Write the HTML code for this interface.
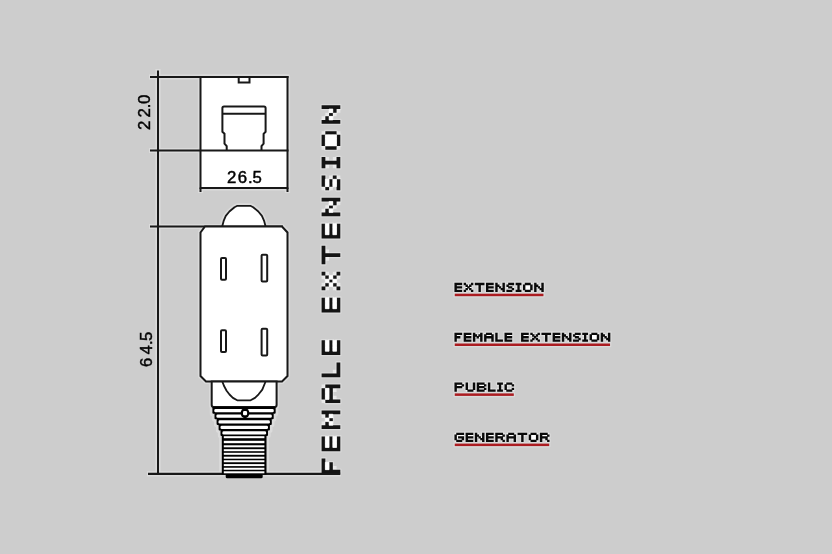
<!DOCTYPE html>
<html><head><meta charset="utf-8"><title>Female Extension</title>
<style>
html,body{margin:0;padding:0;background:#cdcdcd;}
body{width:832px;height:554px;overflow:hidden;position:relative;font-family:"Liberation Sans",sans-serif;}
svg{display:block;position:absolute;left:0;top:0;}
</style></head>
<body>
<svg width="832" height="554" viewBox="0 0 832 554">
<path fill="none" stroke="#dadada" stroke-width="2.6" stroke-linejoin="round" d="M321.6 458.59h3.74v14.8h-3.74zM325.34 469.69h3.74v3.7h-3.74zM329.08 462.29h3.74v11.1h-3.74zM332.82 469.69h3.74v3.7h-3.74zM336.56 469.69h3.74v3.7h-3.74zM321.6 436.39h3.74v14.8h-3.74zM325.34 447.49h3.74v3.7h-3.74zM329.08 436.39h3.74v14.8h-3.74zM332.82 447.49h3.74v3.7h-3.74zM336.56 436.39h3.74v14.8h-3.74zM321.6 425.29h3.74v3.7h-3.74zM321.6 410.49h3.74v3.7h-3.74zM325.34 421.59h3.74v7.4h-3.74zM325.34 410.49h3.74v7.4h-3.74zM329.08 425.29h3.74v3.7h-3.74zM329.08 417.89h3.74v3.7h-3.74zM329.08 410.49h3.74v3.7h-3.74zM332.82 425.29h3.74v3.7h-3.74zM332.82 410.49h3.74v3.7h-3.74zM336.56 425.29h3.74v3.7h-3.74zM336.56 410.49h3.74v3.7h-3.74zM321.6 388.29h3.74v11.1h-3.74zM325.34 399.39h3.74v3.7h-3.74zM325.34 384.59h3.74v3.7h-3.74zM329.08 384.59h3.74v18.5h-3.74zM332.82 399.39h3.74v3.7h-3.74zM332.82 384.59h3.74v3.7h-3.74zM336.56 399.39h3.74v3.7h-3.74zM336.56 384.59h3.74v3.7h-3.74zM321.6 373.49h3.74v3.7h-3.74zM325.34 373.49h3.74v3.7h-3.74zM329.08 373.49h3.74v3.7h-3.74zM332.82 373.49h3.74v3.7h-3.74zM336.56 362.39h3.74v14.8h-3.74zM321.6 340.19h3.74v14.8h-3.74zM325.34 351.29h3.74v3.7h-3.74zM329.08 340.19h3.74v14.8h-3.74zM332.82 351.29h3.74v3.7h-3.74zM336.56 340.19h3.74v14.8h-3.74zM321.6 297.64h3.74v14.8h-3.74zM325.34 308.74h3.74v3.7h-3.74zM329.08 297.64h3.74v14.8h-3.74zM332.82 308.74h3.74v3.7h-3.74zM336.56 297.64h3.74v14.8h-3.74zM321.6 286.54h3.74v3.7h-3.74zM321.6 271.74h3.74v3.7h-3.74zM325.34 282.84h3.74v3.7h-3.74zM325.34 275.44h3.74v3.7h-3.74zM329.08 279.14h3.74v3.7h-3.74zM332.82 282.84h3.74v3.7h-3.74zM332.82 275.44h3.74v3.7h-3.74zM336.56 286.54h3.74v3.7h-3.74zM336.56 271.74h3.74v3.7h-3.74zM321.6 245.84h3.74v18.5h-3.74zM325.34 253.24h3.74v3.7h-3.74zM329.08 253.24h3.74v3.7h-3.74zM332.82 253.24h3.74v3.7h-3.74zM336.56 253.24h3.74v3.7h-3.74zM321.6 223.64h3.74v14.8h-3.74zM325.34 234.74h3.74v3.7h-3.74zM329.08 223.64h3.74v14.8h-3.74zM332.82 234.74h3.74v3.7h-3.74zM336.56 223.64h3.74v14.8h-3.74zM321.6 212.54h3.74v3.7h-3.74zM321.6 197.74h3.74v3.7h-3.74zM325.34 208.84h3.74v7.4h-3.74zM325.34 197.74h3.74v3.7h-3.74zM329.08 212.54h3.74v3.7h-3.74zM329.08 205.14h3.74v3.7h-3.74zM329.08 197.74h3.74v3.7h-3.74zM332.82 212.54h3.74v3.7h-3.74zM332.82 197.74h3.74v7.4h-3.74zM336.56 212.54h3.74v3.7h-3.74zM336.56 197.74h3.74v3.7h-3.74zM321.6 175.54h3.74v11.1h-3.74zM325.34 186.64h3.74v3.7h-3.74zM329.08 179.24h3.74v7.4h-3.74zM332.82 175.54h3.74v3.7h-3.74zM336.56 179.24h3.74v11.1h-3.74zM321.6 157.04h3.74v11.1h-3.74zM325.34 160.74h3.74v3.7h-3.74zM329.08 160.74h3.74v3.7h-3.74zM332.82 160.74h3.74v3.7h-3.74zM336.56 157.04h3.74v11.1h-3.74zM321.6 134.84h3.74v11.1h-3.74zM325.34 145.94h3.74v3.7h-3.74zM325.34 131.14h3.74v3.7h-3.74zM329.08 145.94h3.74v3.7h-3.74zM329.08 131.14h3.74v3.7h-3.74zM332.82 145.94h3.74v3.7h-3.74zM332.82 131.14h3.74v3.7h-3.74zM336.56 134.84h3.74v11.1h-3.74zM321.6 120.04h3.74v3.7h-3.74zM321.6 105.24h3.74v3.7h-3.74zM325.34 116.34h3.74v7.4h-3.74zM325.34 105.24h3.74v3.7h-3.74zM329.08 120.04h3.74v3.7h-3.74zM329.08 112.64h3.74v3.7h-3.74zM329.08 105.24h3.74v3.7h-3.74zM332.82 120.04h3.74v3.7h-3.74zM332.82 105.24h3.74v7.4h-3.74zM336.56 120.04h3.74v3.7h-3.74zM336.56 105.24h3.74v3.7h-3.74zM454.45 282.85h7.69v2.32h-7.69zM454.45 284.57h2.37v2.32h-2.37zM454.45 286.29h7.69v2.32h-7.69zM454.45 288.01h2.37v2.32h-2.37zM454.45 289.73h7.69v2.32h-7.69zM463.69 282.85h2.4v2.32h-2.4zM470.9 282.85h2.4v2.32h-2.4zM465.5 284.57h2.4v2.32h-2.4zM469.1 284.57h2.4v2.32h-2.4zM467.3 286.29h2.4v2.32h-2.4zM465.5 288.01h2.4v2.32h-2.4zM469.1 288.01h2.4v2.32h-2.4zM463.69 289.73h2.4v2.32h-2.4zM470.9 289.73h2.4v2.32h-2.4zM474.85 282.85h9.61v2.32h-9.61zM478.46 284.57h2.4v2.32h-2.4zM478.46 286.29h2.4v2.32h-2.4zM478.46 288.01h2.4v2.32h-2.4zM478.46 289.73h2.4v2.32h-2.4zM486.01 282.85h7.69v2.32h-7.69zM486.01 284.57h2.37v2.32h-2.37zM486.01 286.29h7.69v2.32h-7.69zM486.01 288.01h2.37v2.32h-2.37zM486.01 289.73h7.69v2.32h-7.69zM495.26 282.85h2.4v2.32h-2.4zM502.46 282.85h2.4v2.32h-2.4zM495.26 284.57h4.2v2.32h-4.2zM502.46 284.57h2.4v2.32h-2.4zM495.26 286.29h2.4v2.32h-2.4zM498.86 286.29h2.4v2.32h-2.4zM502.46 286.29h2.4v2.32h-2.4zM495.26 288.01h2.4v2.32h-2.4zM500.66 288.01h4.2v2.32h-4.2zM495.26 289.73h2.4v2.32h-2.4zM502.46 289.73h2.4v2.32h-2.4zM508.19 282.85h5.92v2.32h-5.92zM506.42 284.57h2.37v2.32h-2.37zM508.19 286.29h4.14v2.32h-4.14zM511.73 288.01h2.37v2.32h-2.37zM506.42 289.73h5.92v2.32h-5.92zM515.66 282.85h5.77v2.32h-5.77zM517.38 284.57h2.32v2.32h-2.32zM517.38 286.29h2.32v2.32h-2.32zM517.38 288.01h2.32v2.32h-2.32zM515.66 289.73h5.77v2.32h-5.77zM524.78 282.85h6v2.32h-6zM522.98 284.57h2.4v2.32h-2.4zM530.18 284.57h2.4v2.32h-2.4zM522.98 286.29h2.4v2.32h-2.4zM530.18 286.29h2.4v2.32h-2.4zM522.98 288.01h2.4v2.32h-2.4zM530.18 288.01h2.4v2.32h-2.4zM524.78 289.73h6v2.32h-6zM534.14 282.85h2.4v2.32h-2.4zM541.34 282.85h2.4v2.32h-2.4zM534.14 284.57h4.2v2.32h-4.2zM541.34 284.57h2.4v2.32h-2.4zM534.14 286.29h2.4v2.32h-2.4zM537.74 286.29h2.4v2.32h-2.4zM541.34 286.29h2.4v2.32h-2.4zM534.14 288.01h2.4v2.32h-2.4zM539.54 288.01h4.2v2.32h-4.2zM534.14 289.73h2.4v2.32h-2.4zM541.34 289.73h2.4v2.32h-2.4zM454.45 332.65h7.69v2.32h-7.69zM454.45 334.37h2.37v2.32h-2.37zM454.45 336.09h5.92v2.32h-5.92zM454.45 337.81h2.37v2.32h-2.37zM454.45 339.53h2.37v2.32h-2.37zM463.69 332.65h7.69v2.32h-7.69zM463.69 334.37h2.37v2.32h-2.37zM463.69 336.09h7.69v2.32h-7.69zM463.69 337.81h2.37v2.32h-2.37zM463.69 339.53h7.69v2.32h-7.69zM472.94 332.65h2.4v2.32h-2.4zM480.14 332.65h2.4v2.32h-2.4zM472.94 334.37h4.2v2.32h-4.2zM478.34 334.37h4.2v2.32h-4.2zM472.94 336.09h2.4v2.32h-2.4zM476.54 336.09h2.4v2.32h-2.4zM480.14 336.09h2.4v2.32h-2.4zM472.94 337.81h2.4v2.32h-2.4zM480.14 337.81h2.4v2.32h-2.4zM472.94 339.53h2.4v2.32h-2.4zM480.14 339.53h2.4v2.32h-2.4zM485.9 332.65h6v2.32h-6zM484.1 334.37h2.4v2.32h-2.4zM491.3 334.37h2.4v2.32h-2.4zM484.1 336.09h9.61v2.32h-9.61zM484.1 337.81h2.4v2.32h-2.4zM491.3 337.81h2.4v2.32h-2.4zM484.1 339.53h2.4v2.32h-2.4zM491.3 339.53h2.4v2.32h-2.4zM495.26 332.65h2.37v2.32h-2.37zM495.26 334.37h2.37v2.32h-2.37zM495.26 336.09h2.37v2.32h-2.37zM495.26 337.81h2.37v2.32h-2.37zM495.26 339.53h7.69v2.32h-7.69zM504.5 332.65h7.69v2.32h-7.69zM504.5 334.37h2.37v2.32h-2.37zM504.5 336.09h7.69v2.32h-7.69zM504.5 337.81h2.37v2.32h-2.37zM504.5 339.53h7.69v2.32h-7.69zM521.06 332.65h7.69v2.32h-7.69zM521.06 334.37h2.37v2.32h-2.37zM521.06 336.09h7.69v2.32h-7.69zM521.06 337.81h2.37v2.32h-2.37zM521.06 339.53h7.69v2.32h-7.69zM530.3 332.65h2.4v2.32h-2.4zM537.51 332.65h2.4v2.32h-2.4zM532.1 334.37h2.4v2.32h-2.4zM535.71 334.37h2.4v2.32h-2.4zM533.9 336.09h2.4v2.32h-2.4zM532.1 337.81h2.4v2.32h-2.4zM535.71 337.81h2.4v2.32h-2.4zM530.3 339.53h2.4v2.32h-2.4zM537.51 339.53h2.4v2.32h-2.4zM541.46 332.65h9.61v2.32h-9.61zM545.06 334.37h2.4v2.32h-2.4zM545.06 336.09h2.4v2.32h-2.4zM545.06 337.81h2.4v2.32h-2.4zM545.06 339.53h2.4v2.32h-2.4zM552.62 332.65h7.69v2.32h-7.69zM552.62 334.37h2.37v2.32h-2.37zM552.62 336.09h7.69v2.32h-7.69zM552.62 337.81h2.37v2.32h-2.37zM552.62 339.53h7.69v2.32h-7.69zM561.86 332.65h2.4v2.32h-2.4zM569.07 332.65h2.4v2.32h-2.4zM561.86 334.37h4.2v2.32h-4.2zM569.07 334.37h2.4v2.32h-2.4zM561.86 336.09h2.4v2.32h-2.4zM565.46 336.09h2.4v2.32h-2.4zM569.07 336.09h2.4v2.32h-2.4zM561.86 337.81h2.4v2.32h-2.4zM567.27 337.81h4.2v2.32h-4.2zM561.86 339.53h2.4v2.32h-2.4zM569.07 339.53h2.4v2.32h-2.4zM574.79 332.65h5.92v2.32h-5.92zM573.02 334.37h2.37v2.32h-2.37zM574.79 336.09h4.14v2.32h-4.14zM578.34 337.81h2.37v2.32h-2.37zM573.02 339.53h5.92v2.32h-5.92zM582.26 332.65h5.77v2.32h-5.77zM583.99 334.37h2.32v2.32h-2.32zM583.99 336.09h2.32v2.32h-2.32zM583.99 337.81h2.32v2.32h-2.32zM582.26 339.53h5.77v2.32h-5.77zM591.39 332.65h6v2.32h-6zM589.59 334.37h2.4v2.32h-2.4zM596.79 334.37h2.4v2.32h-2.4zM589.59 336.09h2.4v2.32h-2.4zM596.79 336.09h2.4v2.32h-2.4zM589.59 337.81h2.4v2.32h-2.4zM596.79 337.81h2.4v2.32h-2.4zM591.39 339.53h6v2.32h-6zM600.75 332.65h2.4v2.32h-2.4zM607.95 332.65h2.4v2.32h-2.4zM600.75 334.37h4.2v2.32h-4.2zM607.95 334.37h2.4v2.32h-2.4zM600.75 336.09h2.4v2.32h-2.4zM604.35 336.09h2.4v2.32h-2.4zM607.95 336.09h2.4v2.32h-2.4zM600.75 337.81h2.4v2.32h-2.4zM606.15 337.81h4.2v2.32h-4.2zM600.75 339.53h2.4v2.32h-2.4zM607.95 339.53h2.4v2.32h-2.4zM454.45 382.55h7.81v2.32h-7.81zM454.45 384.27h2.4v2.32h-2.4zM461.66 384.27h2.4v2.32h-2.4zM454.45 385.99h7.81v2.32h-7.81zM454.45 387.71h2.4v2.32h-2.4zM454.45 389.43h2.4v2.32h-2.4zM465.61 382.55h2.4v2.32h-2.4zM472.82 382.55h2.4v2.32h-2.4zM465.61 384.27h2.4v2.32h-2.4zM472.82 384.27h2.4v2.32h-2.4zM465.61 385.99h2.4v2.32h-2.4zM472.82 385.99h2.4v2.32h-2.4zM465.61 387.71h2.4v2.32h-2.4zM472.82 387.71h2.4v2.32h-2.4zM467.42 389.43h6v2.32h-6zM476.77 382.55h7.81v2.32h-7.81zM476.77 384.27h2.4v2.32h-2.4zM483.98 384.27h2.4v2.32h-2.4zM476.77 385.99h7.81v2.32h-7.81zM476.77 387.71h2.4v2.32h-2.4zM483.98 387.71h2.4v2.32h-2.4zM476.77 389.43h7.81v2.32h-7.81zM487.93 382.55h2.37v2.32h-2.37zM487.93 384.27h2.37v2.32h-2.37zM487.93 385.99h2.37v2.32h-2.37zM487.93 387.71h2.37v2.32h-2.37zM487.93 389.43h7.69v2.32h-7.69zM497.17 382.55h5.77v2.32h-5.77zM498.9 384.27h2.32v2.32h-2.32zM498.9 385.99h2.32v2.32h-2.32zM498.9 387.71h2.32v2.32h-2.32zM497.17 389.43h5.77v2.32h-5.77zM506.3 382.55h6v2.32h-6zM504.5 384.27h2.4v2.32h-2.4zM511.7 384.27h2.4v2.32h-2.4zM504.5 385.99h2.4v2.32h-2.4zM504.5 387.71h2.4v2.32h-2.4zM511.7 387.71h2.4v2.32h-2.4zM506.3 389.43h6v2.32h-6zM456.26 432.75h7.81v2.32h-7.81zM454.45 434.47h2.4v2.32h-2.4zM454.45 436.19h2.4v2.32h-2.4zM458.06 436.19h6v2.32h-6zM454.45 437.91h2.4v2.32h-2.4zM461.66 437.91h2.4v2.32h-2.4zM456.26 439.63h6v2.32h-6zM465.61 432.75h7.69v2.32h-7.69zM465.61 434.47h2.37v2.32h-2.37zM465.61 436.19h7.69v2.32h-7.69zM465.61 437.91h2.37v2.32h-2.37zM465.61 439.63h7.69v2.32h-7.69zM474.85 432.75h2.4v2.32h-2.4zM482.06 432.75h2.4v2.32h-2.4zM474.85 434.47h4.2v2.32h-4.2zM482.06 434.47h2.4v2.32h-2.4zM474.85 436.19h2.4v2.32h-2.4zM478.46 436.19h2.4v2.32h-2.4zM482.06 436.19h2.4v2.32h-2.4zM474.85 437.91h2.4v2.32h-2.4zM480.26 437.91h4.2v2.32h-4.2zM474.85 439.63h2.4v2.32h-2.4zM482.06 439.63h2.4v2.32h-2.4zM486.01 432.75h7.69v2.32h-7.69zM486.01 434.47h2.37v2.32h-2.37zM486.01 436.19h7.69v2.32h-7.69zM486.01 437.91h2.37v2.32h-2.37zM486.01 439.63h7.69v2.32h-7.69zM495.26 432.75h7.81v2.32h-7.81zM495.26 434.47h2.4v2.32h-2.4zM502.46 434.47h2.4v2.32h-2.4zM495.26 436.19h7.81v2.32h-7.81zM495.26 437.91h2.4v2.32h-2.4zM500.66 437.91h2.4v2.32h-2.4zM495.26 439.63h2.4v2.32h-2.4zM502.46 439.63h2.4v2.32h-2.4zM508.22 432.75h6v2.32h-6zM506.42 434.47h2.4v2.32h-2.4zM513.62 434.47h2.4v2.32h-2.4zM506.42 436.19h9.61v2.32h-9.61zM506.42 437.91h2.4v2.32h-2.4zM513.62 437.91h2.4v2.32h-2.4zM506.42 439.63h2.4v2.32h-2.4zM513.62 439.63h2.4v2.32h-2.4zM517.58 432.75h9.61v2.32h-9.61zM521.18 434.47h2.4v2.32h-2.4zM521.18 436.19h2.4v2.32h-2.4zM521.18 437.91h2.4v2.32h-2.4zM521.18 439.63h2.4v2.32h-2.4zM530.54 432.75h6v2.32h-6zM528.74 434.47h2.4v2.32h-2.4zM535.94 434.47h2.4v2.32h-2.4zM528.74 436.19h2.4v2.32h-2.4zM535.94 436.19h2.4v2.32h-2.4zM528.74 437.91h2.4v2.32h-2.4zM535.94 437.91h2.4v2.32h-2.4zM530.54 439.63h6v2.32h-6zM539.9 432.75h7.81v2.32h-7.81zM539.9 434.47h2.4v2.32h-2.4zM547.1 434.47h2.4v2.32h-2.4zM539.9 436.19h7.81v2.32h-7.81zM539.9 437.91h2.4v2.32h-2.4zM545.3 437.91h2.4v2.32h-2.4zM539.9 439.63h2.4v2.32h-2.4zM547.1 439.63h2.4v2.32h-2.4zM454.75 293.7h88.69v2.5h-88.69zM454.75 343.5h155.3v2.5h-155.3zM454.75 393.4h59.05v2.5h-59.05zM454.75 443.6h94.45v2.5h-94.45z"/>
<g stroke="#dbdbdb" stroke-width="5.2" fill="none" stroke-linejoin="round">
  <line x1="158" y1="69" x2="158" y2="476"/>
  <line x1="149" y1="77" x2="289.5" y2="77"/>
  <line x1="149" y1="150.5" x2="200" y2="150.5"/>
  <line x1="149" y1="226.5" x2="283" y2="226.5"/>
  <line x1="147" y1="473.8" x2="341" y2="473.8"/>
  <rect x="200.5" y="77" width="87" height="111"/>
  <line x1="200.5" y1="187.5" x2="200.5" y2="193"/>
  <line x1="287.5" y1="187.5" x2="287.5" y2="193"/>
  <path d="M222.2,226.5 L223.65,220.9 L225.8,215.9 L229.4,211.5 L234.5,207.2 L237.4,205.8 H250.3 L253.2,207.2 L258.3,211.5 L261.9,215.9 L264,220.6 L265.6,226.5"/>
  <path d="M205,226.5 H282 L287.5,232.5 V376 L282,381.5 H206 L200.5,376 V232.5 Z"/>
  <path d="M211.7,381.5 V405 Q211.7,407 213.7,407 H274.6 Q276.6,407 276.6,405 V381.5"/>
  <path d="M212.4,407 V413.4 H214.5 V419 H216.6 V424.6 H218.6 V430.2 H220.5 V435.6 H221.8 V474 M275.7,407 V413.4 H273.7 V419 H271.8 V424.6 H269.9 V430.2 H268 V435.6 H266.5 V474"/>
</g>
<g stroke="#181818" stroke-width="2" fill="none">
  <!-- dimension lines -->
  <line x1="158" y1="70.5" x2="158" y2="475"/>
  <line x1="150" y1="77" x2="288.5" y2="77"/>
  <line x1="150" y1="150.5" x2="288.5" y2="150.5"/>
  <line x1="150" y1="226.5" x2="283" y2="226.5"/>
  <line x1="148" y1="473.8" x2="340.3" y2="473.8" stroke-width="2.2"/>
  <!-- top view box -->
  <rect x="200.5" y="77" width="87" height="111" fill="#fff"/>
  <line x1="200.5" y1="150.5" x2="287.5" y2="150.5"/>
  <line x1="200.5" y1="187.5" x2="200.5" y2="192"/>
  <line x1="287.5" y1="187.5" x2="287.5" y2="192"/>
  <path d="M238.7,77 V82.5 H249.5 V77"/>
  <path d="M226.7,150.5 V146.2 L224.5,143.7 V133.8 L222.4,131.8 V108 Q222.4,106.5 224,106.5 H264 Q265.6,106.5 265.6,108 V131.8 L263.6,133.8 V143.7 L261.5,146.2 V150.5"/>
  <line x1="222.4" y1="113.8" x2="265.6" y2="113.8"/>
  <!-- front view -->
  <path d="M222.2,226.5 L223.65,220.9 L225.8,215.9 L229.4,211.5 L234.5,207.2 L237.4,205.8 H250.3 L253.2,207.2 L258.3,211.5 L261.9,215.9 L264,220.6 L265.6,226.5 Z" fill="#fff" stroke-linejoin="round" stroke-width="1.8"/>
  <path d="M205,226.5 H282 L287.5,232.5 V376 L282,381.5 H206 L200.5,376 V232.5 Z" fill="#fff"/>
  <rect x="221" y="258.1" width="5" height="21.6" rx="1" fill="#fff"/>
  <rect x="261.6" y="254.7" width="5.6" height="26.9" rx="1" fill="#fff"/>
  <rect x="221" y="330.3" width="5" height="21.6" rx="1" fill="#fff"/>
  <rect x="261.6" y="328.8" width="5.6" height="26.8" rx="1" fill="#fff"/>
  <path d="M211.7,381.5 V405 Q211.7,407 213.7,407 H274.6 Q276.6,407 276.6,405 V381.5 Z" fill="#fff"/>
  <path d="M222.3,381.5 L224.2,386.3 L226.6,390.7 L229.5,394.5 L232.9,397.9 L237.2,400.3 H250.6 L255,397.9 L258.6,394.3 L262.3,389.6 L265.6,381.5" stroke-linejoin="round" stroke-width="1.8"/>
</g>
<!-- taper bands -->
<g fill="#000">
  <rect x="212.40" y="406.70" width="63.25" height="7.00" rx="1"/>
  <rect x="214.50" y="413.10" width="59.20" height="6.20" rx="1"/>
  <rect x="216.60" y="418.70" width="55.20" height="6.25" rx="1"/>
  <rect x="218.60" y="424.35" width="51.30" height="6.10" rx="1"/>
  <rect x="220.50" y="429.85" width="47.50" height="6.05" rx="1"/>
</g>
<g fill="#fff">
  <rect x="214.30" y="408.90" width="59.45" height="3.4" rx="1.3"/>
  <rect x="216.40" y="414.45" width="55.40" height="3.4" rx="1.3"/>
  <rect x="218.50" y="420.15" width="51.40" height="3.4" rx="1.3"/>
  <rect x="220.50" y="425.70" width="47.50" height="3.4" rx="1.3"/>
  <rect x="222.40" y="431.20" width="43.70" height="3.4" rx="1.3"/>
</g>
<rect x="221.8" y="435" width="44.7" height="39.5" fill="#000"/>
<rect x="225.7" y="474" width="37" height="4.2" rx="1.5" fill="#000"/>
<g fill="#fff">
  <rect x="223.8" y="436.20" width="40.6" height="2.00"/>
  <rect x="223.8" y="440.80" width="40.6" height="2.40"/>
  <rect x="223.8" y="445.30" width="40.6" height="2.00"/>
  <rect x="223.8" y="449.20" width="40.6" height="2.00"/>
  <rect x="223.8" y="452.80" width="40.6" height="2.00"/>
  <rect x="223.8" y="456.70" width="40.6" height="2.00"/>
  <rect x="223.8" y="460.25" width="40.6" height="2.00"/>
  <rect x="223.8" y="464.10" width="40.6" height="2.00"/>
  <rect x="223.8" y="467.75" width="40.6" height="2.00"/>
  <rect x="223.8" y="471.30" width="40.6" height="2.00"/>
</g>
<ellipse cx="245" cy="413.1" rx="4.4" ry="5.1" fill="#000"/>
<rect x="243" y="411.1" width="4.1" height="4.2" rx="1.3" fill="#fff"/>
<!-- dimension texts -->
<g opacity="0.995" font-family="Liberation Sans, sans-serif" font-size="16" stroke="#000" stroke-width="0.45" fill="#000">
  <text x="-0.01 10.27 19.91 24.35" y="0" transform="translate(227,182.6) scale(1.05,1)">26.5</text>
  <text x="0.09 11.8 20.77 24.74" y="0" transform="translate(150,130) rotate(-90) scale(1.05,1)">22.0</text>
  <text x="0.08 11.86 20.86 24.73" y="0" transform="translate(151.5,367) rotate(-90) scale(1.05,1)">64.5</text>
</g>

<path fill="#fff" fill-opacity="0.55" d="M332.82 465.99h3.74v3.7h-3.74zM321.6 421.59h3.74v3.7h-3.74zM321.6 414.19h3.74v3.7h-3.74zM321.6 399.39h3.74v3.7h-3.74zM321.6 384.59h3.74v3.7h-3.74zM332.82 395.69h3.74v3.7h-3.74zM332.82 388.29h3.74v3.7h-3.74zM332.82 369.79h3.74v3.7h-3.74zM321.6 282.84h3.74v3.7h-3.74zM321.6 275.44h3.74v3.7h-3.74zM325.34 286.54h3.74v3.7h-3.74zM325.34 271.74h3.74v3.7h-3.74zM332.82 286.54h3.74v3.7h-3.74zM332.82 271.74h3.74v3.7h-3.74zM336.56 282.84h3.74v3.7h-3.74zM336.56 275.44h3.74v3.7h-3.74zM325.34 256.94h3.74v3.7h-3.74zM325.34 249.54h3.74v3.7h-3.74zM321.6 208.84h3.74v3.7h-3.74zM325.34 205.14h3.74v3.7h-3.74zM332.82 205.14h3.74v3.7h-3.74zM336.56 201.44h3.74v3.7h-3.74zM321.6 186.64h3.74v3.7h-3.74zM329.08 186.64h3.74v3.7h-3.74zM329.08 175.54h3.74v3.7h-3.74zM336.56 175.54h3.74v3.7h-3.74zM325.34 164.44h3.74v3.7h-3.74zM325.34 157.04h3.74v3.7h-3.74zM332.82 164.44h3.74v3.7h-3.74zM332.82 157.04h3.74v3.7h-3.74zM321.6 145.94h3.74v3.7h-3.74zM321.6 131.14h3.74v3.7h-3.74zM336.56 145.94h3.74v3.7h-3.74zM336.56 131.14h3.74v3.7h-3.74zM321.6 116.34h3.74v3.7h-3.74zM325.34 112.64h3.74v3.7h-3.74zM332.82 112.64h3.74v3.7h-3.74zM336.56 108.94h3.74v3.7h-3.74z"/>
<path fill="#141414" d="M321.6 458.59h3.74v14.8h-3.74zM325.34 469.69h3.74v3.7h-3.74zM329.08 462.29h3.74v11.1h-3.74zM332.82 469.69h3.74v3.7h-3.74zM336.56 469.69h3.74v3.7h-3.74zM321.6 436.39h3.74v14.8h-3.74zM325.34 447.49h3.74v3.7h-3.74zM329.08 436.39h3.74v14.8h-3.74zM332.82 447.49h3.74v3.7h-3.74zM336.56 436.39h3.74v14.8h-3.74zM321.6 425.29h3.74v3.7h-3.74zM321.6 410.49h3.74v3.7h-3.74zM325.34 421.59h3.74v7.4h-3.74zM325.34 410.49h3.74v7.4h-3.74zM329.08 425.29h3.74v3.7h-3.74zM329.08 417.89h3.74v3.7h-3.74zM329.08 410.49h3.74v3.7h-3.74zM332.82 425.29h3.74v3.7h-3.74zM332.82 410.49h3.74v3.7h-3.74zM336.56 425.29h3.74v3.7h-3.74zM336.56 410.49h3.74v3.7h-3.74zM321.6 388.29h3.74v11.1h-3.74zM325.34 399.39h3.74v3.7h-3.74zM325.34 384.59h3.74v3.7h-3.74zM329.08 384.59h3.74v18.5h-3.74zM332.82 399.39h3.74v3.7h-3.74zM332.82 384.59h3.74v3.7h-3.74zM336.56 399.39h3.74v3.7h-3.74zM336.56 384.59h3.74v3.7h-3.74zM321.6 373.49h3.74v3.7h-3.74zM325.34 373.49h3.74v3.7h-3.74zM329.08 373.49h3.74v3.7h-3.74zM332.82 373.49h3.74v3.7h-3.74zM336.56 362.39h3.74v14.8h-3.74zM321.6 340.19h3.74v14.8h-3.74zM325.34 351.29h3.74v3.7h-3.74zM329.08 340.19h3.74v14.8h-3.74zM332.82 351.29h3.74v3.7h-3.74zM336.56 340.19h3.74v14.8h-3.74zM321.6 297.64h3.74v14.8h-3.74zM325.34 308.74h3.74v3.7h-3.74zM329.08 297.64h3.74v14.8h-3.74zM332.82 308.74h3.74v3.7h-3.74zM336.56 297.64h3.74v14.8h-3.74zM321.6 286.54h3.74v3.7h-3.74zM321.6 271.74h3.74v3.7h-3.74zM325.34 282.84h3.74v3.7h-3.74zM325.34 275.44h3.74v3.7h-3.74zM329.08 279.14h3.74v3.7h-3.74zM332.82 282.84h3.74v3.7h-3.74zM332.82 275.44h3.74v3.7h-3.74zM336.56 286.54h3.74v3.7h-3.74zM336.56 271.74h3.74v3.7h-3.74zM321.6 245.84h3.74v18.5h-3.74zM325.34 253.24h3.74v3.7h-3.74zM329.08 253.24h3.74v3.7h-3.74zM332.82 253.24h3.74v3.7h-3.74zM336.56 253.24h3.74v3.7h-3.74zM321.6 223.64h3.74v14.8h-3.74zM325.34 234.74h3.74v3.7h-3.74zM329.08 223.64h3.74v14.8h-3.74zM332.82 234.74h3.74v3.7h-3.74zM336.56 223.64h3.74v14.8h-3.74zM321.6 212.54h3.74v3.7h-3.74zM321.6 197.74h3.74v3.7h-3.74zM325.34 208.84h3.74v7.4h-3.74zM325.34 197.74h3.74v3.7h-3.74zM329.08 212.54h3.74v3.7h-3.74zM329.08 205.14h3.74v3.7h-3.74zM329.08 197.74h3.74v3.7h-3.74zM332.82 212.54h3.74v3.7h-3.74zM332.82 197.74h3.74v7.4h-3.74zM336.56 212.54h3.74v3.7h-3.74zM336.56 197.74h3.74v3.7h-3.74zM321.6 175.54h3.74v11.1h-3.74zM325.34 186.64h3.74v3.7h-3.74zM329.08 179.24h3.74v7.4h-3.74zM332.82 175.54h3.74v3.7h-3.74zM336.56 179.24h3.74v11.1h-3.74zM321.6 157.04h3.74v11.1h-3.74zM325.34 160.74h3.74v3.7h-3.74zM329.08 160.74h3.74v3.7h-3.74zM332.82 160.74h3.74v3.7h-3.74zM336.56 157.04h3.74v11.1h-3.74zM321.6 134.84h3.74v11.1h-3.74zM325.34 145.94h3.74v3.7h-3.74zM325.34 131.14h3.74v3.7h-3.74zM329.08 145.94h3.74v3.7h-3.74zM329.08 131.14h3.74v3.7h-3.74zM332.82 145.94h3.74v3.7h-3.74zM332.82 131.14h3.74v3.7h-3.74zM336.56 134.84h3.74v11.1h-3.74zM321.6 120.04h3.74v3.7h-3.74zM321.6 105.24h3.74v3.7h-3.74zM325.34 116.34h3.74v7.4h-3.74zM325.34 105.24h3.74v3.7h-3.74zM329.08 120.04h3.74v3.7h-3.74zM329.08 112.64h3.74v3.7h-3.74zM329.08 105.24h3.74v3.7h-3.74zM332.82 120.04h3.74v3.7h-3.74zM332.82 105.24h3.74v7.4h-3.74zM336.56 120.04h3.74v3.7h-3.74zM336.56 105.24h3.74v3.7h-3.74z"/>
<path fill="#fff" stroke="#fff" stroke-width="0.6" d="M325.34 465.99h3.74v3.7h-3.74zM325.34 462.29h3.74v3.7h-3.74zM325.34 443.79h3.74v3.7h-3.74zM325.34 440.09h3.74v3.7h-3.74zM325.34 436.39h3.74v3.7h-3.74zM332.82 443.79h3.74v3.7h-3.74zM332.82 440.09h3.74v3.7h-3.74zM332.82 436.39h3.74v3.7h-3.74zM325.34 417.89h3.74v3.7h-3.74zM329.08 421.59h3.74v3.7h-3.74zM329.08 414.19h3.74v3.7h-3.74zM325.34 395.69h3.74v3.7h-3.74zM325.34 391.99h3.74v3.7h-3.74zM325.34 388.29h3.74v3.7h-3.74zM325.34 347.59h3.74v3.7h-3.74zM325.34 343.89h3.74v3.7h-3.74zM325.34 340.19h3.74v3.7h-3.74zM332.82 347.59h3.74v3.7h-3.74zM332.82 343.89h3.74v3.7h-3.74zM332.82 340.19h3.74v3.7h-3.74zM325.34 305.04h3.74v3.7h-3.74zM325.34 301.34h3.74v3.7h-3.74zM325.34 297.64h3.74v3.7h-3.74zM332.82 305.04h3.74v3.7h-3.74zM332.82 301.34h3.74v3.7h-3.74zM332.82 297.64h3.74v3.7h-3.74zM325.34 279.14h3.74v3.7h-3.74zM329.08 282.84h3.74v3.7h-3.74zM329.08 275.44h3.74v3.7h-3.74zM332.82 279.14h3.74v3.7h-3.74zM325.34 231.04h3.74v3.7h-3.74zM325.34 227.34h3.74v3.7h-3.74zM325.34 223.64h3.74v3.7h-3.74zM332.82 231.04h3.74v3.7h-3.74zM332.82 227.34h3.74v3.7h-3.74zM332.82 223.64h3.74v3.7h-3.74zM329.08 208.84h3.74v3.7h-3.74zM329.08 201.44h3.74v3.7h-3.74zM325.34 182.94h3.74v3.7h-3.74zM325.34 179.24h3.74v3.7h-3.74zM332.82 182.94h3.74v3.7h-3.74zM332.82 179.24h3.74v3.7h-3.74zM325.34 142.24h3.74v3.7h-3.74zM325.34 138.54h3.74v3.7h-3.74zM325.34 134.84h3.74v3.7h-3.74zM329.08 142.24h3.74v3.7h-3.74zM329.08 138.54h3.74v3.7h-3.74zM329.08 134.84h3.74v3.7h-3.74zM332.82 142.24h3.74v3.7h-3.74zM332.82 138.54h3.74v3.7h-3.74zM332.82 134.84h3.74v3.7h-3.74zM329.08 116.34h3.74v3.7h-3.74zM329.08 108.94h3.74v3.7h-3.74z"/>
<path fill="#fff" fill-opacity="0.5" d="M465.8 283.15h1.8v1.72h-1.8zM469.4 283.15h1.8v1.72h-1.8zM463.99 284.87h1.8v1.72h-1.8zM471.2 284.87h1.8v1.72h-1.8zM463.99 288.31h1.8v1.72h-1.8zM471.2 288.31h1.8v1.72h-1.8zM465.8 290.03h1.8v1.72h-1.8zM469.4 290.03h1.8v1.72h-1.8zM476.96 284.87h1.8v1.72h-1.8zM480.56 284.87h1.8v1.72h-1.8zM497.36 283.15h1.8v1.72h-1.8zM499.16 284.87h1.8v1.72h-1.8zM499.16 288.31h1.8v1.72h-1.8zM500.96 290.03h1.8v1.72h-1.8zM506.72 283.15h1.77v1.72h-1.77zM506.72 286.59h1.77v1.72h-1.77zM512.03 286.59h1.77v1.72h-1.77zM512.03 290.03h1.77v1.72h-1.77zM515.96 284.87h1.72v1.72h-1.72zM519.4 284.87h1.72v1.72h-1.72zM515.96 288.31h1.72v1.72h-1.72zM519.4 288.31h1.72v1.72h-1.72zM523.28 283.15h1.8v1.72h-1.8zM530.48 283.15h1.8v1.72h-1.8zM523.28 290.03h1.8v1.72h-1.8zM530.48 290.03h1.8v1.72h-1.8zM536.24 283.15h1.8v1.72h-1.8zM538.04 284.87h1.8v1.72h-1.8zM538.04 288.31h1.8v1.72h-1.8zM539.84 290.03h1.8v1.72h-1.8zM456.53 338.11h1.77v1.72h-1.77zM475.04 332.95h1.8v1.72h-1.8zM478.64 332.95h1.8v1.72h-1.8zM484.4 332.95h1.8v1.72h-1.8zM491.6 332.95h1.8v1.72h-1.8zM486.2 338.11h1.8v1.72h-1.8zM489.8 338.11h1.8v1.72h-1.8zM497.33 338.11h1.77v1.72h-1.77zM532.4 332.95h1.8v1.72h-1.8zM536.01 332.95h1.8v1.72h-1.8zM530.6 334.67h1.8v1.72h-1.8zM537.81 334.67h1.8v1.72h-1.8zM530.6 338.11h1.8v1.72h-1.8zM537.81 338.11h1.8v1.72h-1.8zM532.4 339.83h1.8v1.72h-1.8zM536.01 339.83h1.8v1.72h-1.8zM543.56 334.67h1.8v1.72h-1.8zM547.17 334.67h1.8v1.72h-1.8zM563.96 332.95h1.8v1.72h-1.8zM565.76 334.67h1.8v1.72h-1.8zM565.76 338.11h1.8v1.72h-1.8zM567.57 339.83h1.8v1.72h-1.8zM573.32 332.95h1.77v1.72h-1.77zM573.32 336.39h1.77v1.72h-1.77zM578.64 336.39h1.77v1.72h-1.77zM578.64 339.83h1.77v1.72h-1.77zM582.56 334.67h1.72v1.72h-1.72zM586.01 334.67h1.72v1.72h-1.72zM582.56 338.11h1.72v1.72h-1.72zM586.01 338.11h1.72v1.72h-1.72zM589.88 332.95h1.8v1.72h-1.8zM597.09 332.95h1.8v1.72h-1.8zM589.88 339.83h1.8v1.72h-1.8zM597.09 339.83h1.8v1.72h-1.8zM602.85 332.95h1.8v1.72h-1.8zM604.65 334.67h1.8v1.72h-1.8zM604.65 338.11h1.8v1.72h-1.8zM606.45 339.83h1.8v1.72h-1.8zM461.96 382.85h1.8v1.72h-1.8zM461.96 386.29h1.8v1.72h-1.8zM456.56 388.01h1.8v1.72h-1.8zM467.72 388.01h1.8v1.72h-1.8zM471.32 388.01h1.8v1.72h-1.8zM465.91 389.73h1.8v1.72h-1.8zM473.12 389.73h1.8v1.72h-1.8zM484.28 382.85h1.8v1.72h-1.8zM484.28 389.73h1.8v1.72h-1.8zM490.01 388.01h1.77v1.72h-1.77zM497.47 384.57h1.72v1.72h-1.72zM500.92 384.57h1.72v1.72h-1.72zM497.47 388.01h1.72v1.72h-1.72zM500.92 388.01h1.72v1.72h-1.72zM504.8 382.85h1.8v1.72h-1.8zM512 382.85h1.8v1.72h-1.8zM506.6 384.57h1.8v1.72h-1.8zM510.2 384.57h1.8v1.72h-1.8zM506.6 388.01h1.8v1.72h-1.8zM510.2 388.01h1.8v1.72h-1.8zM504.8 389.73h1.8v1.72h-1.8zM512 389.73h1.8v1.72h-1.8zM454.75 433.05h1.8v1.72h-1.8zM456.56 434.77h1.8v1.72h-1.8zM456.56 438.21h1.8v1.72h-1.8zM454.75 439.93h1.8v1.72h-1.8zM461.96 439.93h1.8v1.72h-1.8zM476.96 433.05h1.8v1.72h-1.8zM478.76 434.77h1.8v1.72h-1.8zM478.76 438.21h1.8v1.72h-1.8zM480.56 439.93h1.8v1.72h-1.8zM502.76 433.05h1.8v1.72h-1.8zM502.76 436.49h1.8v1.72h-1.8zM497.36 438.21h1.8v1.72h-1.8zM499.16 438.21h1.8v1.72h-1.8zM502.76 438.21h1.8v1.72h-1.8zM500.96 439.93h1.8v1.72h-1.8zM506.72 433.05h1.8v1.72h-1.8zM513.92 433.05h1.8v1.72h-1.8zM508.52 438.21h1.8v1.72h-1.8zM512.12 438.21h1.8v1.72h-1.8zM519.68 434.77h1.8v1.72h-1.8zM523.28 434.77h1.8v1.72h-1.8zM529.04 433.05h1.8v1.72h-1.8zM536.24 433.05h1.8v1.72h-1.8zM529.04 439.93h1.8v1.72h-1.8zM536.24 439.93h1.8v1.72h-1.8zM547.4 433.05h1.8v1.72h-1.8zM547.4 436.49h1.8v1.72h-1.8zM542 438.21h1.8v1.72h-1.8zM543.8 438.21h1.8v1.72h-1.8zM547.4 438.21h1.8v1.72h-1.8zM545.6 439.93h1.8v1.72h-1.8z"/>
<path fill="#fff" d="M456.53 284.87h1.77v1.72h-1.77zM458.3 284.87h1.77v1.72h-1.77zM460.07 284.87h1.77v1.72h-1.77zM456.53 288.31h1.77v1.72h-1.77zM458.3 288.31h1.77v1.72h-1.77zM460.07 288.31h1.77v1.72h-1.77zM467.6 284.87h1.8v1.72h-1.8zM465.8 286.59h1.8v1.72h-1.8zM469.4 286.59h1.8v1.72h-1.8zM467.6 288.31h1.8v1.72h-1.8zM488.09 284.87h1.77v1.72h-1.77zM489.86 284.87h1.77v1.72h-1.77zM491.63 284.87h1.77v1.72h-1.77zM488.09 288.31h1.77v1.72h-1.77zM489.86 288.31h1.77v1.72h-1.77zM491.63 288.31h1.77v1.72h-1.77zM497.36 286.59h1.8v1.72h-1.8zM500.96 286.59h1.8v1.72h-1.8zM508.49 284.87h1.77v1.72h-1.77zM510.26 284.87h1.77v1.72h-1.77zM508.49 288.31h1.77v1.72h-1.77zM510.26 288.31h1.77v1.72h-1.77zM525.08 284.87h1.8v1.72h-1.8zM526.88 284.87h1.8v1.72h-1.8zM528.68 284.87h1.8v1.72h-1.8zM525.08 286.59h1.8v1.72h-1.8zM526.88 286.59h1.8v1.72h-1.8zM528.68 286.59h1.8v1.72h-1.8zM525.08 288.31h1.8v1.72h-1.8zM526.88 288.31h1.8v1.72h-1.8zM528.68 288.31h1.8v1.72h-1.8zM536.24 286.59h1.8v1.72h-1.8zM539.84 286.59h1.8v1.72h-1.8zM456.53 334.67h1.77v1.72h-1.77zM458.3 334.67h1.77v1.72h-1.77zM465.77 334.67h1.77v1.72h-1.77zM467.54 334.67h1.77v1.72h-1.77zM469.31 334.67h1.77v1.72h-1.77zM465.77 338.11h1.77v1.72h-1.77zM467.54 338.11h1.77v1.72h-1.77zM469.31 338.11h1.77v1.72h-1.77zM476.84 334.67h1.8v1.72h-1.8zM475.04 336.39h1.8v1.72h-1.8zM478.64 336.39h1.8v1.72h-1.8zM486.2 334.67h1.8v1.72h-1.8zM488 334.67h1.8v1.72h-1.8zM489.8 334.67h1.8v1.72h-1.8zM506.57 334.67h1.77v1.72h-1.77zM508.34 334.67h1.77v1.72h-1.77zM510.11 334.67h1.77v1.72h-1.77zM506.57 338.11h1.77v1.72h-1.77zM508.34 338.11h1.77v1.72h-1.77zM510.11 338.11h1.77v1.72h-1.77zM523.13 334.67h1.77v1.72h-1.77zM524.9 334.67h1.77v1.72h-1.77zM526.68 334.67h1.77v1.72h-1.77zM523.13 338.11h1.77v1.72h-1.77zM524.9 338.11h1.77v1.72h-1.77zM526.68 338.11h1.77v1.72h-1.77zM534.2 334.67h1.8v1.72h-1.8zM532.4 336.39h1.8v1.72h-1.8zM536.01 336.39h1.8v1.72h-1.8zM534.2 338.11h1.8v1.72h-1.8zM554.69 334.67h1.77v1.72h-1.77zM556.46 334.67h1.77v1.72h-1.77zM558.24 334.67h1.77v1.72h-1.77zM554.69 338.11h1.77v1.72h-1.77zM556.46 338.11h1.77v1.72h-1.77zM558.24 338.11h1.77v1.72h-1.77zM563.96 336.39h1.8v1.72h-1.8zM567.57 336.39h1.8v1.72h-1.8zM575.09 334.67h1.77v1.72h-1.77zM576.87 334.67h1.77v1.72h-1.77zM575.09 338.11h1.77v1.72h-1.77zM576.87 338.11h1.77v1.72h-1.77zM591.69 334.67h1.8v1.72h-1.8zM593.49 334.67h1.8v1.72h-1.8zM595.29 334.67h1.8v1.72h-1.8zM591.69 336.39h1.8v1.72h-1.8zM593.49 336.39h1.8v1.72h-1.8zM595.29 336.39h1.8v1.72h-1.8zM591.69 338.11h1.8v1.72h-1.8zM593.49 338.11h1.8v1.72h-1.8zM595.29 338.11h1.8v1.72h-1.8zM602.85 336.39h1.8v1.72h-1.8zM606.45 336.39h1.8v1.72h-1.8zM456.56 384.57h1.8v1.72h-1.8zM458.36 384.57h1.8v1.72h-1.8zM460.16 384.57h1.8v1.72h-1.8zM478.88 384.57h1.8v1.72h-1.8zM480.68 384.57h1.8v1.72h-1.8zM482.48 384.57h1.8v1.72h-1.8zM484.28 386.29h1.8v1.72h-1.8zM478.88 388.01h1.8v1.72h-1.8zM480.68 388.01h1.8v1.72h-1.8zM482.48 388.01h1.8v1.72h-1.8zM512 386.29h1.8v1.72h-1.8zM458.36 434.77h1.8v1.72h-1.8zM460.16 434.77h1.8v1.72h-1.8zM461.96 434.77h1.8v1.72h-1.8zM456.56 436.49h1.8v1.72h-1.8zM458.36 438.21h1.8v1.72h-1.8zM460.16 438.21h1.8v1.72h-1.8zM467.69 434.77h1.77v1.72h-1.77zM469.46 434.77h1.77v1.72h-1.77zM471.23 434.77h1.77v1.72h-1.77zM467.69 438.21h1.77v1.72h-1.77zM469.46 438.21h1.77v1.72h-1.77zM471.23 438.21h1.77v1.72h-1.77zM476.96 436.49h1.8v1.72h-1.8zM480.56 436.49h1.8v1.72h-1.8zM488.09 434.77h1.77v1.72h-1.77zM489.86 434.77h1.77v1.72h-1.77zM491.63 434.77h1.77v1.72h-1.77zM488.09 438.21h1.77v1.72h-1.77zM489.86 438.21h1.77v1.72h-1.77zM491.63 438.21h1.77v1.72h-1.77zM497.36 434.77h1.8v1.72h-1.8zM499.16 434.77h1.8v1.72h-1.8zM500.96 434.77h1.8v1.72h-1.8zM508.52 434.77h1.8v1.72h-1.8zM510.32 434.77h1.8v1.72h-1.8zM512.12 434.77h1.8v1.72h-1.8zM530.84 434.77h1.8v1.72h-1.8zM532.64 434.77h1.8v1.72h-1.8zM534.44 434.77h1.8v1.72h-1.8zM530.84 436.49h1.8v1.72h-1.8zM532.64 436.49h1.8v1.72h-1.8zM534.44 436.49h1.8v1.72h-1.8zM530.84 438.21h1.8v1.72h-1.8zM532.64 438.21h1.8v1.72h-1.8zM534.44 438.21h1.8v1.72h-1.8zM542 434.77h1.8v1.72h-1.8zM543.8 434.77h1.8v1.72h-1.8zM545.6 434.77h1.8v1.72h-1.8z"/>
<path fill="#0a0a0a" d="M454.45 282.85h7.69v2.32h-7.69zM454.45 284.57h2.37v2.32h-2.37zM454.45 286.29h7.69v2.32h-7.69zM454.45 288.01h2.37v2.32h-2.37zM454.45 289.73h7.69v2.32h-7.69zM463.69 282.85h2.4v2.32h-2.4zM470.9 282.85h2.4v2.32h-2.4zM465.5 284.57h2.4v2.32h-2.4zM469.1 284.57h2.4v2.32h-2.4zM467.3 286.29h2.4v2.32h-2.4zM465.5 288.01h2.4v2.32h-2.4zM469.1 288.01h2.4v2.32h-2.4zM463.69 289.73h2.4v2.32h-2.4zM470.9 289.73h2.4v2.32h-2.4zM474.85 282.85h9.61v2.32h-9.61zM478.46 284.57h2.4v2.32h-2.4zM478.46 286.29h2.4v2.32h-2.4zM478.46 288.01h2.4v2.32h-2.4zM478.46 289.73h2.4v2.32h-2.4zM486.01 282.85h7.69v2.32h-7.69zM486.01 284.57h2.37v2.32h-2.37zM486.01 286.29h7.69v2.32h-7.69zM486.01 288.01h2.37v2.32h-2.37zM486.01 289.73h7.69v2.32h-7.69zM495.26 282.85h2.4v2.32h-2.4zM502.46 282.85h2.4v2.32h-2.4zM495.26 284.57h4.2v2.32h-4.2zM502.46 284.57h2.4v2.32h-2.4zM495.26 286.29h2.4v2.32h-2.4zM498.86 286.29h2.4v2.32h-2.4zM502.46 286.29h2.4v2.32h-2.4zM495.26 288.01h2.4v2.32h-2.4zM500.66 288.01h4.2v2.32h-4.2zM495.26 289.73h2.4v2.32h-2.4zM502.46 289.73h2.4v2.32h-2.4zM508.19 282.85h5.92v2.32h-5.92zM506.42 284.57h2.37v2.32h-2.37zM508.19 286.29h4.14v2.32h-4.14zM511.73 288.01h2.37v2.32h-2.37zM506.42 289.73h5.92v2.32h-5.92zM515.66 282.85h5.77v2.32h-5.77zM517.38 284.57h2.32v2.32h-2.32zM517.38 286.29h2.32v2.32h-2.32zM517.38 288.01h2.32v2.32h-2.32zM515.66 289.73h5.77v2.32h-5.77zM524.78 282.85h6v2.32h-6zM522.98 284.57h2.4v2.32h-2.4zM530.18 284.57h2.4v2.32h-2.4zM522.98 286.29h2.4v2.32h-2.4zM530.18 286.29h2.4v2.32h-2.4zM522.98 288.01h2.4v2.32h-2.4zM530.18 288.01h2.4v2.32h-2.4zM524.78 289.73h6v2.32h-6zM534.14 282.85h2.4v2.32h-2.4zM541.34 282.85h2.4v2.32h-2.4zM534.14 284.57h4.2v2.32h-4.2zM541.34 284.57h2.4v2.32h-2.4zM534.14 286.29h2.4v2.32h-2.4zM537.74 286.29h2.4v2.32h-2.4zM541.34 286.29h2.4v2.32h-2.4zM534.14 288.01h2.4v2.32h-2.4zM539.54 288.01h4.2v2.32h-4.2zM534.14 289.73h2.4v2.32h-2.4zM541.34 289.73h2.4v2.32h-2.4zM454.45 332.65h7.69v2.32h-7.69zM454.45 334.37h2.37v2.32h-2.37zM454.45 336.09h5.92v2.32h-5.92zM454.45 337.81h2.37v2.32h-2.37zM454.45 339.53h2.37v2.32h-2.37zM463.69 332.65h7.69v2.32h-7.69zM463.69 334.37h2.37v2.32h-2.37zM463.69 336.09h7.69v2.32h-7.69zM463.69 337.81h2.37v2.32h-2.37zM463.69 339.53h7.69v2.32h-7.69zM472.94 332.65h2.4v2.32h-2.4zM480.14 332.65h2.4v2.32h-2.4zM472.94 334.37h4.2v2.32h-4.2zM478.34 334.37h4.2v2.32h-4.2zM472.94 336.09h2.4v2.32h-2.4zM476.54 336.09h2.4v2.32h-2.4zM480.14 336.09h2.4v2.32h-2.4zM472.94 337.81h2.4v2.32h-2.4zM480.14 337.81h2.4v2.32h-2.4zM472.94 339.53h2.4v2.32h-2.4zM480.14 339.53h2.4v2.32h-2.4zM485.9 332.65h6v2.32h-6zM484.1 334.37h2.4v2.32h-2.4zM491.3 334.37h2.4v2.32h-2.4zM484.1 336.09h9.61v2.32h-9.61zM484.1 337.81h2.4v2.32h-2.4zM491.3 337.81h2.4v2.32h-2.4zM484.1 339.53h2.4v2.32h-2.4zM491.3 339.53h2.4v2.32h-2.4zM495.26 332.65h2.37v2.32h-2.37zM495.26 334.37h2.37v2.32h-2.37zM495.26 336.09h2.37v2.32h-2.37zM495.26 337.81h2.37v2.32h-2.37zM495.26 339.53h7.69v2.32h-7.69zM504.5 332.65h7.69v2.32h-7.69zM504.5 334.37h2.37v2.32h-2.37zM504.5 336.09h7.69v2.32h-7.69zM504.5 337.81h2.37v2.32h-2.37zM504.5 339.53h7.69v2.32h-7.69zM521.06 332.65h7.69v2.32h-7.69zM521.06 334.37h2.37v2.32h-2.37zM521.06 336.09h7.69v2.32h-7.69zM521.06 337.81h2.37v2.32h-2.37zM521.06 339.53h7.69v2.32h-7.69zM530.3 332.65h2.4v2.32h-2.4zM537.51 332.65h2.4v2.32h-2.4zM532.1 334.37h2.4v2.32h-2.4zM535.71 334.37h2.4v2.32h-2.4zM533.9 336.09h2.4v2.32h-2.4zM532.1 337.81h2.4v2.32h-2.4zM535.71 337.81h2.4v2.32h-2.4zM530.3 339.53h2.4v2.32h-2.4zM537.51 339.53h2.4v2.32h-2.4zM541.46 332.65h9.61v2.32h-9.61zM545.06 334.37h2.4v2.32h-2.4zM545.06 336.09h2.4v2.32h-2.4zM545.06 337.81h2.4v2.32h-2.4zM545.06 339.53h2.4v2.32h-2.4zM552.62 332.65h7.69v2.32h-7.69zM552.62 334.37h2.37v2.32h-2.37zM552.62 336.09h7.69v2.32h-7.69zM552.62 337.81h2.37v2.32h-2.37zM552.62 339.53h7.69v2.32h-7.69zM561.86 332.65h2.4v2.32h-2.4zM569.07 332.65h2.4v2.32h-2.4zM561.86 334.37h4.2v2.32h-4.2zM569.07 334.37h2.4v2.32h-2.4zM561.86 336.09h2.4v2.32h-2.4zM565.46 336.09h2.4v2.32h-2.4zM569.07 336.09h2.4v2.32h-2.4zM561.86 337.81h2.4v2.32h-2.4zM567.27 337.81h4.2v2.32h-4.2zM561.86 339.53h2.4v2.32h-2.4zM569.07 339.53h2.4v2.32h-2.4zM574.79 332.65h5.92v2.32h-5.92zM573.02 334.37h2.37v2.32h-2.37zM574.79 336.09h4.14v2.32h-4.14zM578.34 337.81h2.37v2.32h-2.37zM573.02 339.53h5.92v2.32h-5.92zM582.26 332.65h5.77v2.32h-5.77zM583.99 334.37h2.32v2.32h-2.32zM583.99 336.09h2.32v2.32h-2.32zM583.99 337.81h2.32v2.32h-2.32zM582.26 339.53h5.77v2.32h-5.77zM591.39 332.65h6v2.32h-6zM589.59 334.37h2.4v2.32h-2.4zM596.79 334.37h2.4v2.32h-2.4zM589.59 336.09h2.4v2.32h-2.4zM596.79 336.09h2.4v2.32h-2.4zM589.59 337.81h2.4v2.32h-2.4zM596.79 337.81h2.4v2.32h-2.4zM591.39 339.53h6v2.32h-6zM600.75 332.65h2.4v2.32h-2.4zM607.95 332.65h2.4v2.32h-2.4zM600.75 334.37h4.2v2.32h-4.2zM607.95 334.37h2.4v2.32h-2.4zM600.75 336.09h2.4v2.32h-2.4zM604.35 336.09h2.4v2.32h-2.4zM607.95 336.09h2.4v2.32h-2.4zM600.75 337.81h2.4v2.32h-2.4zM606.15 337.81h4.2v2.32h-4.2zM600.75 339.53h2.4v2.32h-2.4zM607.95 339.53h2.4v2.32h-2.4zM454.45 382.55h7.81v2.32h-7.81zM454.45 384.27h2.4v2.32h-2.4zM461.66 384.27h2.4v2.32h-2.4zM454.45 385.99h7.81v2.32h-7.81zM454.45 387.71h2.4v2.32h-2.4zM454.45 389.43h2.4v2.32h-2.4zM465.61 382.55h2.4v2.32h-2.4zM472.82 382.55h2.4v2.32h-2.4zM465.61 384.27h2.4v2.32h-2.4zM472.82 384.27h2.4v2.32h-2.4zM465.61 385.99h2.4v2.32h-2.4zM472.82 385.99h2.4v2.32h-2.4zM465.61 387.71h2.4v2.32h-2.4zM472.82 387.71h2.4v2.32h-2.4zM467.42 389.43h6v2.32h-6zM476.77 382.55h7.81v2.32h-7.81zM476.77 384.27h2.4v2.32h-2.4zM483.98 384.27h2.4v2.32h-2.4zM476.77 385.99h7.81v2.32h-7.81zM476.77 387.71h2.4v2.32h-2.4zM483.98 387.71h2.4v2.32h-2.4zM476.77 389.43h7.81v2.32h-7.81zM487.93 382.55h2.37v2.32h-2.37zM487.93 384.27h2.37v2.32h-2.37zM487.93 385.99h2.37v2.32h-2.37zM487.93 387.71h2.37v2.32h-2.37zM487.93 389.43h7.69v2.32h-7.69zM497.17 382.55h5.77v2.32h-5.77zM498.9 384.27h2.32v2.32h-2.32zM498.9 385.99h2.32v2.32h-2.32zM498.9 387.71h2.32v2.32h-2.32zM497.17 389.43h5.77v2.32h-5.77zM506.3 382.55h6v2.32h-6zM504.5 384.27h2.4v2.32h-2.4zM511.7 384.27h2.4v2.32h-2.4zM504.5 385.99h2.4v2.32h-2.4zM504.5 387.71h2.4v2.32h-2.4zM511.7 387.71h2.4v2.32h-2.4zM506.3 389.43h6v2.32h-6zM456.26 432.75h7.81v2.32h-7.81zM454.45 434.47h2.4v2.32h-2.4zM454.45 436.19h2.4v2.32h-2.4zM458.06 436.19h6v2.32h-6zM454.45 437.91h2.4v2.32h-2.4zM461.66 437.91h2.4v2.32h-2.4zM456.26 439.63h6v2.32h-6zM465.61 432.75h7.69v2.32h-7.69zM465.61 434.47h2.37v2.32h-2.37zM465.61 436.19h7.69v2.32h-7.69zM465.61 437.91h2.37v2.32h-2.37zM465.61 439.63h7.69v2.32h-7.69zM474.85 432.75h2.4v2.32h-2.4zM482.06 432.75h2.4v2.32h-2.4zM474.85 434.47h4.2v2.32h-4.2zM482.06 434.47h2.4v2.32h-2.4zM474.85 436.19h2.4v2.32h-2.4zM478.46 436.19h2.4v2.32h-2.4zM482.06 436.19h2.4v2.32h-2.4zM474.85 437.91h2.4v2.32h-2.4zM480.26 437.91h4.2v2.32h-4.2zM474.85 439.63h2.4v2.32h-2.4zM482.06 439.63h2.4v2.32h-2.4zM486.01 432.75h7.69v2.32h-7.69zM486.01 434.47h2.37v2.32h-2.37zM486.01 436.19h7.69v2.32h-7.69zM486.01 437.91h2.37v2.32h-2.37zM486.01 439.63h7.69v2.32h-7.69zM495.26 432.75h7.81v2.32h-7.81zM495.26 434.47h2.4v2.32h-2.4zM502.46 434.47h2.4v2.32h-2.4zM495.26 436.19h7.81v2.32h-7.81zM495.26 437.91h2.4v2.32h-2.4zM500.66 437.91h2.4v2.32h-2.4zM495.26 439.63h2.4v2.32h-2.4zM502.46 439.63h2.4v2.32h-2.4zM508.22 432.75h6v2.32h-6zM506.42 434.47h2.4v2.32h-2.4zM513.62 434.47h2.4v2.32h-2.4zM506.42 436.19h9.61v2.32h-9.61zM506.42 437.91h2.4v2.32h-2.4zM513.62 437.91h2.4v2.32h-2.4zM506.42 439.63h2.4v2.32h-2.4zM513.62 439.63h2.4v2.32h-2.4zM517.58 432.75h9.61v2.32h-9.61zM521.18 434.47h2.4v2.32h-2.4zM521.18 436.19h2.4v2.32h-2.4zM521.18 437.91h2.4v2.32h-2.4zM521.18 439.63h2.4v2.32h-2.4zM530.54 432.75h6v2.32h-6zM528.74 434.47h2.4v2.32h-2.4zM535.94 434.47h2.4v2.32h-2.4zM528.74 436.19h2.4v2.32h-2.4zM535.94 436.19h2.4v2.32h-2.4zM528.74 437.91h2.4v2.32h-2.4zM535.94 437.91h2.4v2.32h-2.4zM530.54 439.63h6v2.32h-6zM539.9 432.75h7.81v2.32h-7.81zM539.9 434.47h2.4v2.32h-2.4zM547.1 434.47h2.4v2.32h-2.4zM539.9 436.19h7.81v2.32h-7.81zM539.9 437.91h2.4v2.32h-2.4zM545.3 437.91h2.4v2.32h-2.4zM539.9 439.63h2.4v2.32h-2.4zM547.1 439.63h2.4v2.32h-2.4z"/>
<rect x="454.75" y="293.7" width="88.69" height="2.5" fill="#ab1c21"/>
<rect x="454.75" y="343.5" width="155.3" height="2.5" fill="#ab1c21"/>
<rect x="454.75" y="393.4" width="59.05" height="2.5" fill="#ab1c21"/>
<rect x="454.75" y="443.6" width="94.45" height="2.5" fill="#ab1c21"/>
</svg>
</body></html>
